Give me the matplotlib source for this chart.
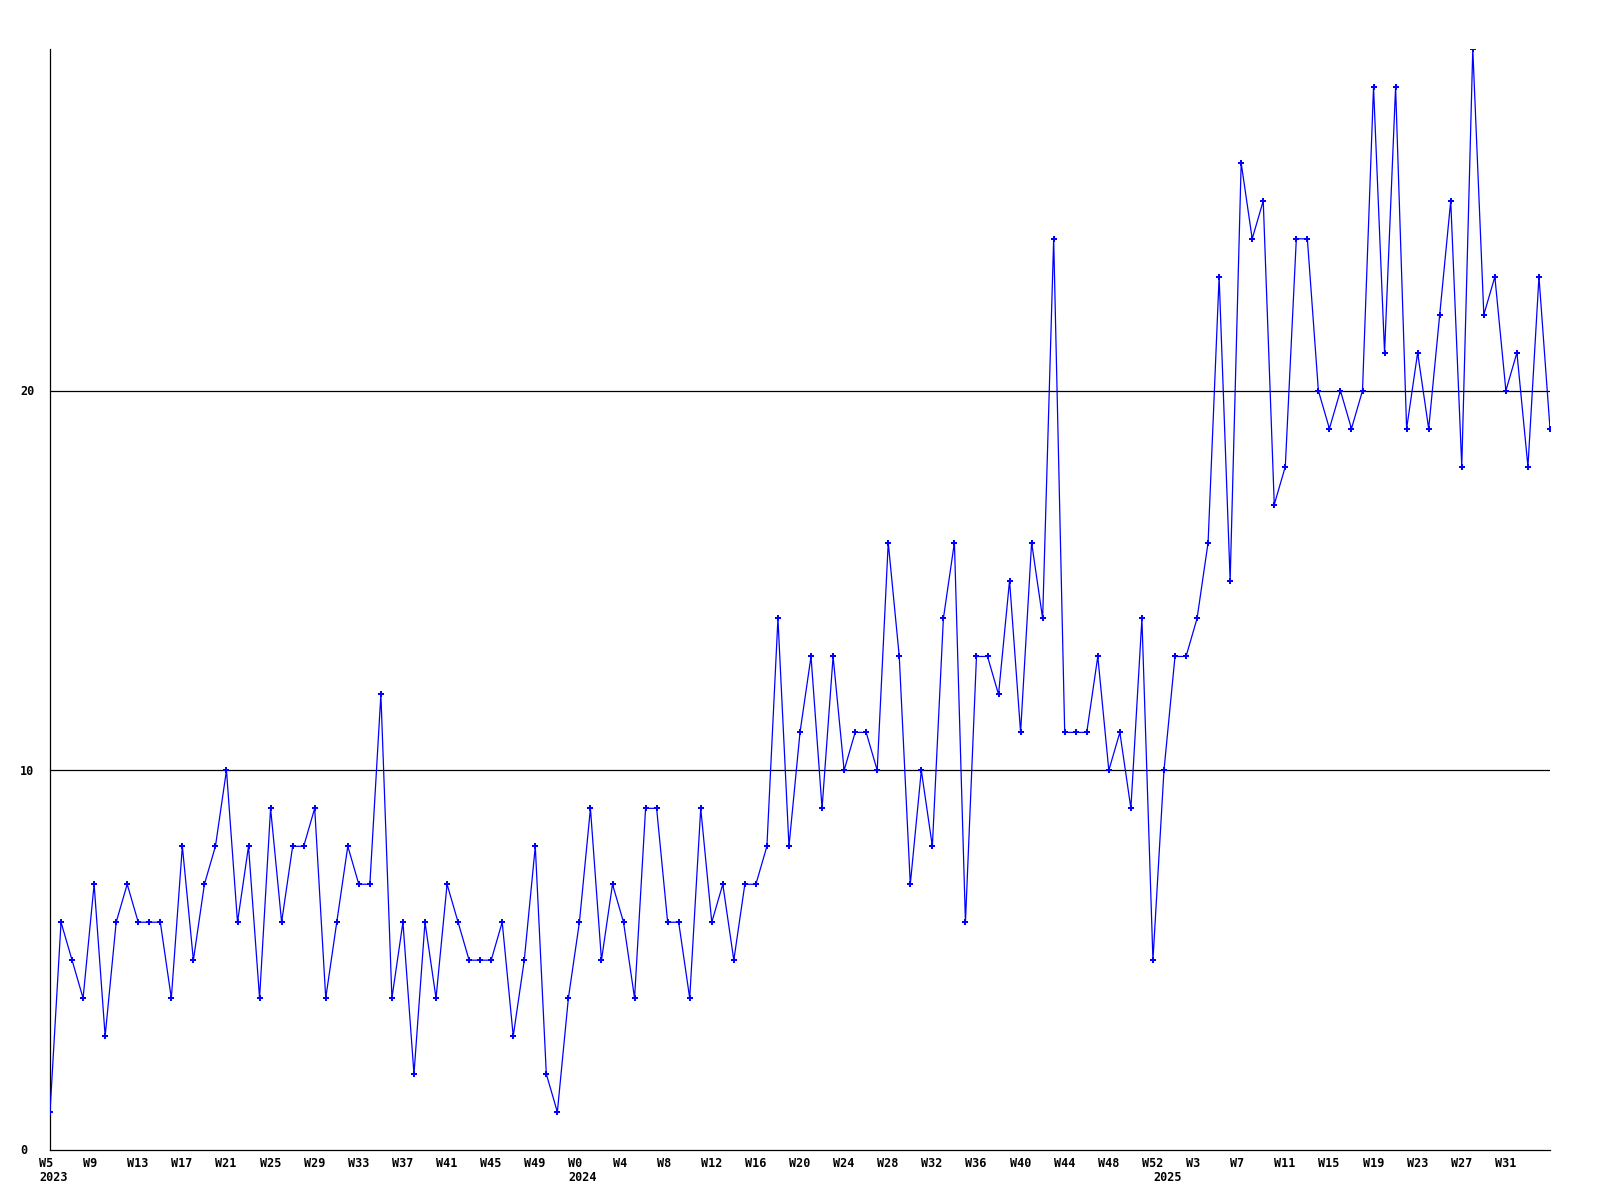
import numpy as np
import matplotlib
matplotlib.use("Agg")
import matplotlib.pyplot as plt

# weekly counts, 2023 W5 .. 2025 W35
values = [
    1, 6, 5, 4, 7, 3, 6, 7, 6, 6, 6, 4, 8, 5, 7, 8, 10, 6, 8, 4, 9, 6, 8, 8, 9, 4, 6, 8, 7, 7, 12, 4,
    6, 2, 6, 4, 7, 6, 5, 5, 5, 6, 3, 5, 8, 2, 1, 4, 6, 9, 5, 7, 6, 4, 9, 9, 6, 6, 4, 9, 6, 7, 5, 7, 7, 8,
    14, 8, 11, 13, 9, 13, 10, 11, 11, 10, 16, 13, 7, 10, 8, 14, 16, 6, 13, 13, 12, 15, 11, 16, 14,
    24, 11, 11, 11, 13, 10, 11, 9, 14, 5, 10, 13, 13, 14,
    16, 23, 15, 26, 24, 25, 17, 18, 24, 24, 20, 19, 20, 19, 20, 28, 21, 28, 19, 21, 19, 22, 25, 18, 29,
    22, 23, 20, 21, 18, 23, 19,
]

tick_weeks = [0, 4, 8, 12, 16, 20, 24, 28, 32, 36, 40, 44,
              48, 52, 56, 60, 64, 68, 72, 76, 80, 84, 88, 92, 96, 100,
              104, 108, 112, 116, 120, 124, 128, 132]
tick_labels = ["W5", "W9", "W13", "W17", "W21", "W25", "W29", "W33", "W37", "W41", "W45", "W49",
               "W0", "W4", "W8", "W12", "W16", "W20", "W24", "W28", "W32", "W36", "W40", "W44",
               "W48", "W52",
               "W3", "W7", "W11", "W15", "W19", "W23", "W27", "W31"]

year_starts = [0, 48, 101]
year_labels = ["2023", "2024", "2025"]

y_ticks = [0, 10, 20]


def main():
    font = {"family": "DejaVu Sans Mono", "weight": "bold", "size": 8.5}

    fig = plt.figure(figsize=(16, 12), dpi=100)
    ax = fig.add_axes([50 / 1600, 50 / 1200, 1500 / 1600, 1101 / 1200])

    x = np.arange(len(values))
    ax.plot(x, values, color="#0000ff", lw=0.9, marker="P", ms=4.5, mew=0, zorder=3)

    for yv in y_ticks[1:]:
        ax.axhline(yv, color="black", lw=0.9, zorder=1)

    ax.set_xlim(0, len(values) - 1)
    ax.set_ylim(0, max(values))

    ax.spines["top"].set_visible(False)
    ax.spines["right"].set_visible(False)
    ax.spines["left"].set_linewidth(0.9)
    ax.spines["bottom"].set_linewidth(0.9)

    ax.set_xticks([])
    ax.set_yticks([])

    # labels sit left-aligned, about one week before their point
    for pos, lab in zip(tick_weeks, tick_labels):
        ax.annotate(lab, (pos, 0), xycoords=("data", "axes fraction"),
                    xytext=(-11, -7), textcoords="offset pixels",
                    ha="left", va="top", annotation_clip=False, **font)
    for pos, lab in zip(year_starts, year_labels):
        ax.annotate(lab, (pos, 0), xycoords=("data", "axes fraction"),
                    xytext=(-11, -21), textcoords="offset pixels",
                    ha="left", va="top", annotation_clip=False, **font)
    for yv in y_ticks:
        ax.annotate(str(yv), (0, yv), xycoords=("axes fraction", "data"),
                    xytext=(-30, -1), textcoords="offset pixels",
                    ha="left", va="center", annotation_clip=False, **font)

    fig.savefig("out.png", dpi=100)


if __name__ == "__main__":
    main()
